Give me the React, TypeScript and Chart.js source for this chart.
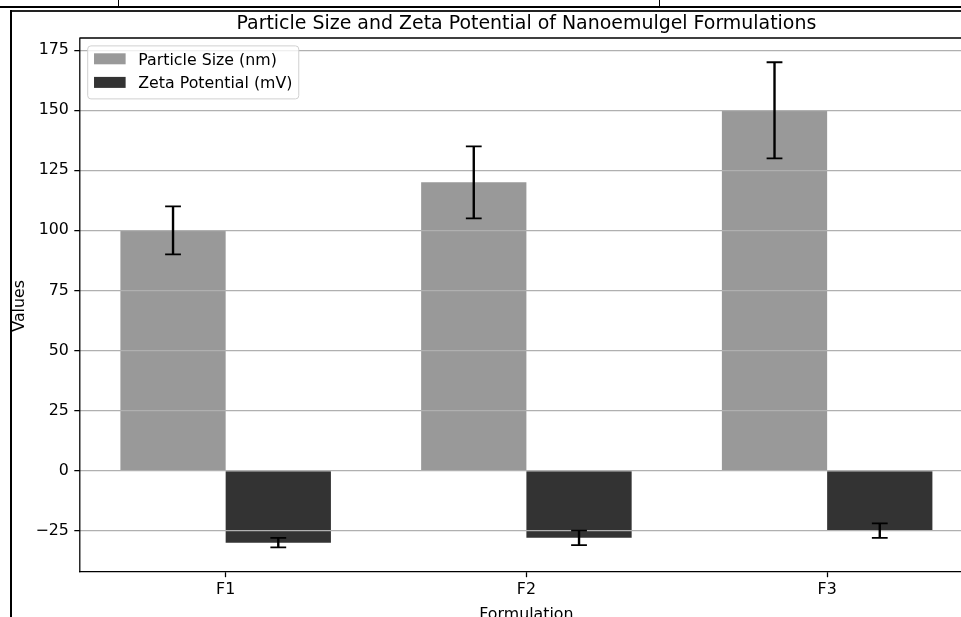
import React, { useEffect, useRef } from 'react';
import { Chart, registerables } from 'chart.js';

Chart.register(...registerables);

const categories = ['F1', 'F2', 'F3'];
const particleSize = [100, 120, 150];
const particleErr = [10, 15, 20];
const zetaPotential = [-30, -28, -25];
const zetaErr = [2, 3, 3];
const yTicks = [-25, 0, 25, 50, 75, 100, 125, 150, 175];
const yMin = -42.1;
const yMax = 180.1;
const xMin = -0.485;
const xMax = 2.485;

const titleText = 'Particle Size and Zeta Potential of Nanoemulgel Formulations';
const xLabel = 'Formulation';
const yLabel = 'Values';
const seriesLabels = ['Particle Size (nm)', 'Zeta Potential (mV)'];
const seriesColors = ['#999999', '#333333'];

const FONT = '"DejaVu Sans", sans-serif';
const FS = 15.8;

const decorPlugin = {
  id: 'decor',
  afterDraw(chart: any) {
    const ctx = chart.ctx as CanvasRenderingContext2D;
    const area = chart.chartArea;
    const ys = chart.scales.y;
    ctx.save();
    // top and left spines
    ctx.strokeStyle = '#000';
    ctx.lineWidth = 1.26;
    ctx.beginPath();
    ctx.moveTo(area.left, area.top);
    ctx.lineTo(area.right, area.top);
    ctx.moveTo(area.left, area.top - 0.6);
    ctx.lineTo(area.left, area.bottom + 0.6);
    ctx.stroke();

    // error bars
    chart.data.datasets.forEach((ds: any, di: number) => {
      const meta = chart.getDatasetMeta(di);
      meta.data.forEach((bar: any, i: number) => {
        const v = ds.data[i].y;
        const e = ds.errors[i];
        const x = bar.x;
        const yTop = ys.getPixelForValue(v + e);
        const yBot = ys.getPixelForValue(v - e);
        ctx.strokeStyle = '#000';
        ctx.lineCap = 'butt';
        ctx.lineWidth = 2.4;
        ctx.beginPath();
        ctx.moveTo(x, yTop);
        ctx.lineTo(x, yBot);
        ctx.stroke();
        ctx.lineWidth = 1.8;
        ctx.beginPath();
        ctx.moveTo(x - 7.9, yTop);
        ctx.lineTo(x + 7.9, yTop);
        ctx.moveTo(x - 7.9, yBot);
        ctx.lineTo(x + 7.9, yBot);
        ctx.stroke();
      });
    });

    // legend
    ctx.font = `${FS}px ${FONT}`;
    const labels = chart.data.datasets.map((d: any) => d.label);
    const maxW = Math.max(...labels.map((l: string) => ctx.measureText(l).width));
    const pad = 0.4 * FS;
    const hl = 2 * FS;
    const htp = 0.8 * FS;
    const lx = area.left + 0.5 * FS;
    const ly = area.top + 0.5 * FS;
    const rowH = 23.6;
    const lw = pad + hl + htp + maxW + pad;
    const lh = 53;
    const r = 3.2;
    ctx.beginPath();
    ctx.moveTo(lx + r, ly);
    ctx.lineTo(lx + lw - r, ly);
    ctx.quadraticCurveTo(lx + lw, ly, lx + lw, ly + r);
    ctx.lineTo(lx + lw, ly + lh - r);
    ctx.quadraticCurveTo(lx + lw, ly + lh, lx + lw - r, ly + lh);
    ctx.lineTo(lx + r, ly + lh);
    ctx.quadraticCurveTo(lx, ly + lh, lx, ly + lh - r);
    ctx.lineTo(lx, ly + r);
    ctx.quadraticCurveTo(lx, ly, lx + r, ly);
    ctx.closePath();
    ctx.fillStyle = 'rgba(255,255,255,0.8)';
    ctx.fill();
    ctx.strokeStyle = '#d0d0d0';
    ctx.lineWidth = 1;
    ctx.stroke();
    chart.data.datasets.forEach((d: any, i: number) => {
      const cy = ly + 12.9 + i * rowH;
      ctx.fillStyle = d.backgroundColor;
      ctx.fillRect(lx + pad, cy - 5.5, hl, 11);
      ctx.fillStyle = '#000';
      ctx.textAlign = 'left';
      ctx.textBaseline = 'alphabetic';
      ctx.fillText(d.label, lx + pad + hl + htp, cy + 5.7);
    });

    // title
    ctx.font = `${18.96}px ${FONT}`;
    ctx.fillStyle = '#000';
    ctx.textAlign = 'center';
    ctx.textBaseline = 'alphabetic';
    ctx.fillText(titleText, (area.left + area.right) / 2, area.top - 9.5);

    // axis labels
    ctx.font = `${FS}px ${FONT}`;
    ctx.fillText(xLabel, (area.left + area.right) / 2, 619);
    ctx.save();
    ctx.translate(24, (area.top + area.bottom) / 2 + 1);
    ctx.rotate(-Math.PI / 2);
    ctx.fillText(yLabel, 0, 0);
    ctx.restore();
    ctx.restore();
  },
};

export default function App() {
  const ref = useRef<HTMLCanvasElement>(null);
  useEffect(() => {
    const chart = new Chart(ref.current as HTMLCanvasElement, {
      type: 'bar',
      data: {
        datasets: [
          {
            label: seriesLabels[0],
            data: particleSize.map((v, i) => ({ x: i, y: v })),
            errors: particleErr,
            backgroundColor: seriesColors[0],
            borderWidth: 0,
          } as any,
          {
            label: seriesLabels[1],
            data: zetaPotential.map((v, i) => ({ x: i, y: v })),
            errors: zetaErr,
            backgroundColor: seriesColors[1],
            borderWidth: 0,
          } as any,
        ],
      },
      options: {
        animation: false,
        responsive: false,
        devicePixelRatio: 1,
        events: [],
        datasets: { bar: { categoryPercentage: 0.7, barPercentage: 1.0 } },
        layout: { padding: { top: 38, right: 27, left: 0, bottom: 0 } },
        plugins: {
          legend: { display: false },
          title: { display: false },
          tooltip: { enabled: false },
        },
        scales: {
          x: {
            type: 'linear',
            min: xMin,
            max: xMax,
            offset: false,
            afterBuildTicks: (s: any) => {
              s.ticks = categories.map((_, i) => ({ value: i }));
            },
            afterFit: (s: any) => {
              s.height = 640 - 571.7;
            },
            ticks: {
              callback: (v: any) => categories[v] ?? '',
              font: { family: FONT, size: FS },
              color: '#000',
              padding: 3.5,
              maxRotation: 0,
              autoSkip: false,
            },
            grid: {
              offset: false,
              drawOnChartArea: false,
              tickLength: 5.5,
              tickColor: '#000',
              tickWidth: 1.26,
            },
            border: { color: '#000', width: 1.26 },
          },
          y: {
            type: 'linear',
            min: yMin,
            max: yMax,
            afterBuildTicks: (s: any) => {
              s.ticks = yTicks.map((v) => ({ value: v }));
            },
            afterFit: (s: any) => {
              s.width = 79.8;
            },
            ticks: {
              callback: (v: any) => (v < 0 ? '\u2212' + Math.abs(v) : String(v)),
              font: { family: FONT, size: FS },
              color: '#000',
              padding: 5.5,
            },
            grid: {
              offset: false,
              color: '#b0b0b0',
              lineWidth: 1.26,
              tickLength: 5.5,
              tickColor: '#000',
              tickWidth: 1.26,
              z: 1,
            },
            border: { display: false },
          },
        },
      } as any,
      plugins: [decorPlugin],
    });
    return () => chart.destroy();
  }, []);

  return (
    <div
      style={{
        position: 'fixed',
        left: 0,
        top: 0,
        width: 961,
        height: 617,
        overflow: 'hidden',
        background: '#fff',
      }}
    >
      <canvas
        ref={ref}
        width={1000}
        height={640}
        style={{ position: 'absolute', left: 0, top: 0, width: 1000, height: 640 }}
      />
      <div style={{ position: 'absolute', left: 0, top: 6, width: 961, height: 2, background: '#000' }} />
      <div style={{ position: 'absolute', left: 118, top: 0, width: 1, height: 6, background: '#000' }} />
      <div style={{ position: 'absolute', left: 659, top: 0, width: 1, height: 6, background: '#000' }} />
      <div style={{ position: 'absolute', left: 10, top: 10, width: 951, height: 2, background: '#222' }} />
      <div style={{ position: 'absolute', left: 10, top: 10, width: 2, height: 607, background: '#000' }} />
    </div>
  );
}
